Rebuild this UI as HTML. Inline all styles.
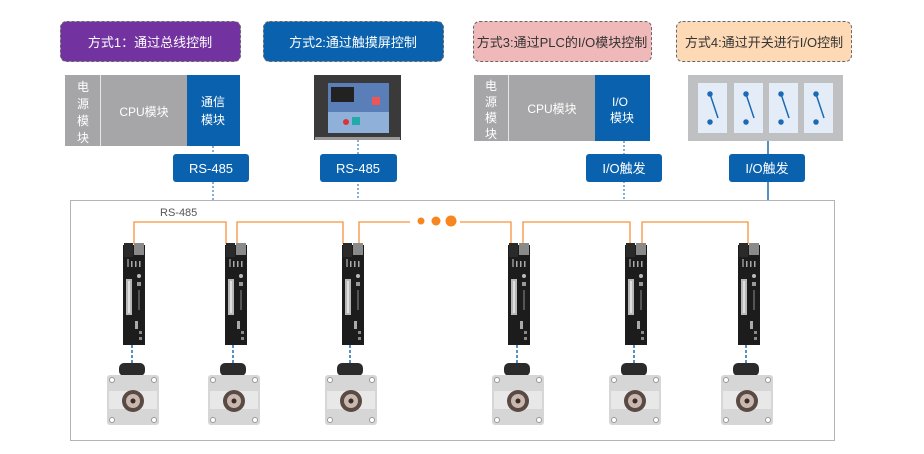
<!DOCTYPE html>
<html><head><meta charset="utf-8"><style>
html,body{margin:0;padding:0;background:#fff}
svg{display:block}
text{font-family:"Liberation Sans","Noto Sans CJK SC",sans-serif}
</style></head><body>
<svg width="924" height="454" viewBox="0 0 924 454" xmlns="http://www.w3.org/2000/svg">
<defs>
<g id="drv">
  <rect x="0" y="0" width="22" height="100" fill="#1c1c1c"/>
  <rect x="1" y="-2" width="9" height="14" fill="#2a2a2a"/>
  <rect x="11" y="-2" width="10" height="12" fill="#8a8a8a"/>
  <rect x="4" y="14" width="2" height="8" fill="#777"/>
  <rect x="8" y="16" width="1.5" height="6" fill="#aaa"/><rect x="12" y="16" width="1.5" height="6" fill="#aaa"/><rect x="16" y="16" width="1.5" height="6" fill="#aaa"/>
  <rect x="3" y="34" width="6" height="36" fill="#b8b8b8"/>
  <rect x="5" y="36" width="2" height="32" fill="#e0e0e0"/>
  <circle cx="16" cy="31" r="2" fill="#bbb"/>
  <rect x="14" y="37" width="4" height="4" fill="#999"/>
  <rect x="15" y="45" width="2" height="20" fill="#555"/>
  <rect x="12" y="76" width="3" height="8" fill="#aaa"/>
  <rect x="16" y="86" width="3" height="3" fill="#888"/><rect x="16" y="92" width="3" height="3" fill="#888"/>
</g>
<g id="mot">
  <rect x="12" y="0" width="26" height="13" rx="5" fill="#2b2b2b"/>
  <rect x="0" y="12" width="52" height="50" rx="3" fill="#d6d6d6"/>
  <rect x="2" y="28" width="48" height="18" fill="#e8e8e8"/>
  <circle cx="5" cy="17" r="2.5" fill="#fff" stroke="#999"/><circle cx="47" cy="17" r="2.5" fill="#fff" stroke="#999"/>
  <circle cx="5" cy="57" r="2.5" fill="#fff" stroke="#999"/><circle cx="47" cy="57" r="2.5" fill="#fff" stroke="#999"/>
  <circle cx="26" cy="38" r="11" fill="#5a4a44"/>
  <circle cx="26" cy="38" r="7" fill="#c8b8b0"/>
  <circle cx="26" cy="38" r="2.5" fill="#3a2a24"/>
</g>
</defs>

<!-- top method boxes -->
<rect x="60.5" y="21.5" width="180" height="40" rx="6" fill="#7232a0" stroke="#666" stroke-dasharray="3,2"/>
<text x="150" y="47" font-size="13" fill="#fff" text-anchor="middle">方式1：通过总线控制</text>
<rect x="263.5" y="21.5" width="180" height="40" rx="6" fill="#0a62ae" stroke="#666" stroke-dasharray="3,2"/>
<text x="353" y="47" font-size="13" fill="#fff" text-anchor="middle">方式2:通过触摸屏控制</text>
<rect x="473.5" y="21.5" width="178" height="40" rx="6" fill="#f0b9b9" stroke="#666" stroke-dasharray="3,2"/>
<text x="562" y="47" font-size="13" fill="#333" text-anchor="middle">方式3:通过PLC的I/O模块控制</text>
<rect x="676.5" y="21.5" width="175" height="40" rx="6" fill="#fdd9b5" stroke="#666" stroke-dasharray="3,2"/>
<text x="764" y="47" font-size="13" fill="#333" text-anchor="middle">方式4:通过开关进行I/O控制</text>

<!-- PLC 1 -->
<rect x="65" y="75" width="122" height="71" fill="#a6a6a8"/>
<line x1="100.5" y1="75" x2="100.5" y2="146" stroke="#e6e6e6"/>
<rect x="187" y="75" width="53" height="71" fill="#0a62ae"/>
<g font-size="12" fill="#fff" text-anchor="middle">
<text x="83" y="91">电</text><text x="83" y="108">源</text><text x="83" y="125">模</text><text x="83" y="142">块</text>
<text x="144" y="116">CPU模块</text>
<text x="213" y="106">通信</text><text x="213" y="124">模块</text>
</g>
<line x1="213" y1="146" x2="213" y2="200" stroke="#0a62ae" stroke-dasharray="2,2"/>
<rect x="173" y="154" width="76" height="28" rx="3" fill="#0a62ae"/>
<text x="211" y="173" font-size="13" fill="#fff" text-anchor="middle">RS-485</text>

<!-- HMI -->
<rect x="314" y="75" width="87" height="65" fill="#3a3a3a"/>
<rect x="315" y="137" width="85" height="3" fill="#999"/>
<rect x="328" y="83" width="61" height="50" fill="#5a7fb8"/>
<rect x="331" y="87" width="23" height="15" fill="#222"/>
<rect x="328" y="112" width="61" height="21" fill="#8fb0d8"/>
<circle cx="346" cy="122" r="3" fill="#d33"/><rect x="352" y="117" width="8" height="8" fill="#2aa"/>
<rect x="372" y="97" width="8" height="8" fill="#e55"/>
<line x1="358" y1="140" x2="358" y2="200" stroke="#0a62ae" stroke-dasharray="2,2"/>
<rect x="320" y="154" width="77" height="28" rx="3" fill="#0a62ae"/>
<text x="358" y="173" font-size="13" fill="#fff" text-anchor="middle">RS-485</text>

<!-- PLC 3 -->
<rect x="474" y="75" width="121" height="66" fill="#a6a6a8"/>
<line x1="508.5" y1="75" x2="508.5" y2="141" stroke="#e6e6e6"/>
<rect x="595" y="75" width="55" height="66" fill="#0a62ae"/>
<g font-size="12" fill="#fff" text-anchor="middle">
<text x="491" y="90">电</text><text x="491" y="106">源</text><text x="491" y="122">模</text><text x="491" y="138">块</text>
<text x="552" y="113">CPU模块</text>
<text x="620" y="106">I/O</text><text x="622" y="122">模块</text>
</g>
<line x1="624" y1="141" x2="624" y2="200" stroke="#0a62ae" stroke-dasharray="2,2"/>
<rect x="586" y="154" width="76" height="28" rx="3" fill="#0a62ae"/>
<text x="624" y="173" font-size="13" fill="#fff" text-anchor="middle">I/O触发</text>

<!-- switches -->
<rect x="688" y="75" width="155" height="66" fill="#bfc0c2"/>
<g fill="#e4edf7"><rect x="698" y="83" width="29" height="50"/><rect x="734" y="83" width="29" height="50"/><rect x="769" y="83" width="29" height="50"/><rect x="804" y="83" width="29" height="50"/></g>
<g stroke="#1a6ab5" stroke-width="1.5" fill="#1a6ab5">
<line x1="710" y1="94" x2="718" y2="118"/><circle cx="710" cy="94" r="2"/><circle cx="710" cy="122" r="2"/>
<line x1="746" y1="94" x2="754" y2="118"/><circle cx="746" cy="94" r="2"/><circle cx="746" cy="122" r="2"/>
<line x1="781" y1="94" x2="789" y2="118"/><circle cx="781" cy="94" r="2"/><circle cx="781" cy="122" r="2"/>
<line x1="816" y1="94" x2="824" y2="118"/><circle cx="816" cy="94" r="2"/><circle cx="816" cy="122" r="2"/>
</g>
<line x1="768" y1="141" x2="768" y2="200" stroke="#1a6ab5" stroke-width="1.5"/>
<rect x="729" y="154" width="76" height="28" rx="3" fill="#0a62ae"/>
<text x="767" y="173" font-size="13" fill="#fff" text-anchor="middle">I/O触发</text>

<!-- frame -->
<rect x="70.5" y="200.5" width="764" height="240" fill="none" stroke="#b4b4b8"/>
<text x="160" y="216" font-size="11" fill="#555">RS-485</text>

<!-- orange wires -->
<g stroke="#f7923a" stroke-width="1.3" fill="none">
<polyline points="134,244 134,222 226,222 226,244"/>
<polyline points="237,244 237,222 343,222 343,244"/>
<polyline points="359,244 359,222 410,222"/>
<polyline points="460,222 511,222 511,244"/>
<polyline points="523,244 523,222 630,222 630,244"/>
<polyline points="642,244 642,222 748,222 748,244"/>
</g>
<g fill="#f7861f"><circle cx="421" cy="221" r="3.5"/><circle cx="436" cy="221" r="4.5"/><circle cx="451" cy="221" r="5.5"/></g>

<!-- drivers & motors -->
<g>
<use href="#drv" x="123" y="245"/><use href="#drv" x="225" y="245"/><use href="#drv" x="342" y="245"/>
<use href="#drv" x="508" y="245"/><use href="#drv" x="625" y="245"/><use href="#drv" x="738" y="245"/>
</g>
<g stroke="#1a6ab5" stroke-width="1.5" stroke-dasharray="3,2">
<line x1="132" y1="345" x2="132" y2="364"/><line x1="233" y1="345" x2="233" y2="364"/><line x1="350" y1="345" x2="350" y2="364"/>
<line x1="517" y1="345" x2="517" y2="364"/><line x1="634" y1="345" x2="634" y2="364"/><line x1="746" y1="345" x2="746" y2="364"/>
</g>
<use href="#mot" x="107" y="363"/><use href="#mot" x="208" y="363"/><use href="#mot" x="325" y="363"/>
<use href="#mot" x="492" y="363"/><use href="#mot" x="609" y="363"/><use href="#mot" x="721" y="363"/>
</svg>
</body></html>
